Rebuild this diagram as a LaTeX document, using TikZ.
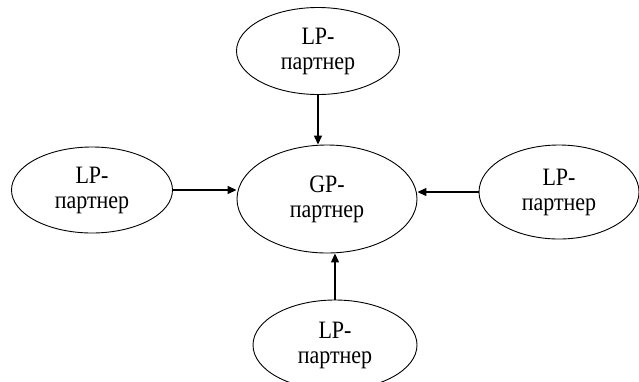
\documentclass[tikz,border=0pt]{standalone}
\usepackage{fontspec}
\setmainfont{Liberation Serif}[FakeStretch=0.88]
\usetikzlibrary{shapes.geometric,arrows.meta}
\begin{document}
\begin{tikzpicture}[x=1pt,y=-1pt,
  ell/.style={draw,ellipse,line width=0.9pt,inner sep=0pt,align=center,
    font=\fontsize{25}{25}\selectfont},
  arr/.style={line width=1.3pt,-{Triangle[length=9pt,width=8pt]}}]
\useasboundingbox (0,0) rectangle (639,381);
\node[ell,minimum width=163pt,minimum height=87pt] (top) at (318,51) {LP-\\партнер};
\node[ell,minimum width=180pt,minimum height=108pt] (gp) at (327,199) {GP-\\партнер};
\node[ell,minimum width=161pt,minimum height=86pt] (left) at (92,190) {LP-\\партнер};
\node[ell,minimum width=160pt,minimum height=94pt] (right) at (559,192) {LP-\\партнер};
\node[ell,minimum width=164pt,minimum height=90pt] (bot) at (335,345) {LP-\\партнер};
\draw[arr] (top.south) -- (top.south |- gp.north);
\draw[arr] (left.east) -- (left.east -| gp.west);
\draw[arr] (right.west) -- (right.west -| gp.east);
\draw[arr] (bot.north) -- (bot.north |- gp.south);
\end{tikzpicture}
\end{document}
